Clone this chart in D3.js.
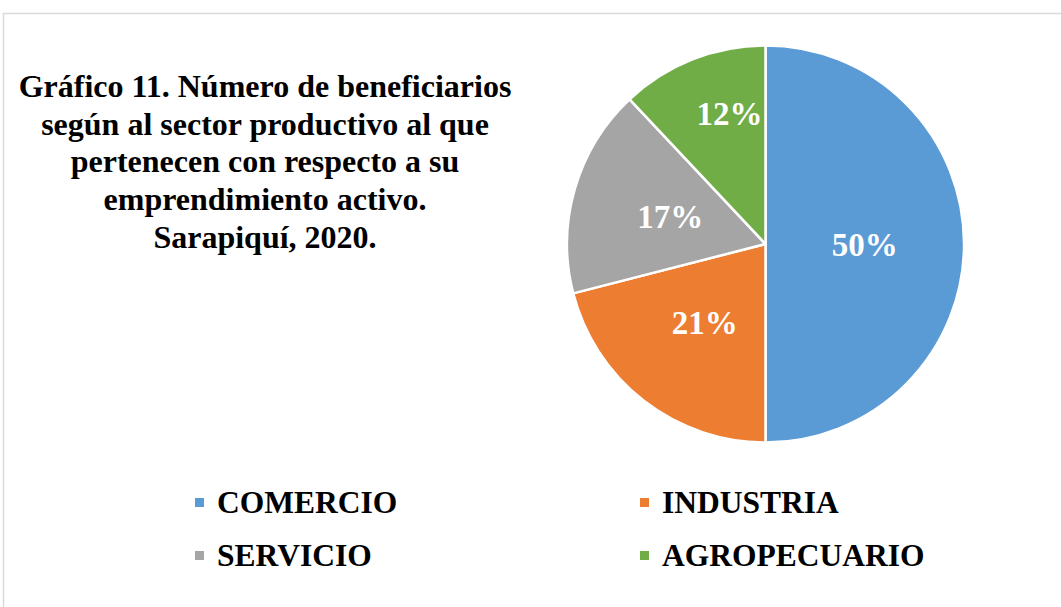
<!DOCTYPE html>
<html>
<head>
<meta charset="utf-8">
<script src="https://cdn.jsdelivr.net/npm/d3@7"></script>
<style>
  html, body { margin: 0; padding: 0; background: #fff; }
  svg { display: block; }
  text { font-family: "Liberation Serif", "Times New Roman", serif; font-weight: bold; }
</style>
</head>
<body>
<svg id="chart" width="1061" height="607"></svg>
<script>
const categories = ["COMERCIO", "INDUSTRIA", "SERVICIO", "AGROPECUARIO"];
const values = [50, 21, 17, 12];
const colors = ["#5b9bd5", "#ed7d31", "#a5a5a5", "#70ad47"];
const titleLines = [
  "Gráfico 11. Número de beneficiarios",
  "según al sector productivo al que",
  "pertenecen con respecto a su",
  "emprendimiento activo.",
  "Sarapiquí, 2020."
];

const svg = d3.select("#chart");

// chart border
svg.append("rect")
  .attr("x", 3.5).attr("y", 13.5)
  .attr("width", 1070).attr("height", 610)
  .attr("fill", "#fff").attr("stroke", "#d9d9d9").attr("stroke-width", 1.5);

// title
const title = svg.append("text")
  .attr("x", 265).attr("y", 97)
  .attr("text-anchor", "middle")
  .attr("font-size", 32)
  .attr("fill", "#000");
titleLines.forEach((l, i) => {
  title.append("tspan").attr("x", 265).attr("dy", i === 0 ? 0 : 37.7).text(l);
});

// pie
const cx = 765.5, cy = 244, R = 198.5;
const total = d3.sum(values);
const pie = d3.pie().sort(null).value(d => d.v);
const data = categories.map((c, i) => ({ c, v: values[i], col: colors[i] }));
const arcs = pie(data);
const arc = d3.arc().innerRadius(0).outerRadius(R);

const g = svg.append("g").attr("transform", `translate(${cx},${cy})`);
g.selectAll("path.slice").data(arcs).enter().append("path")
  .attr("class", "slice")
  .attr("d", arc)
  .attr("fill", d => d.data.col)
  .attr("stroke", "#fff").attr("stroke-width", 2.5).attr("stroke-linejoin", "round");

// labels (the smallest slice label sits further out, like the original)
const labelScale = [1, 1, 1, 1.42];
g.selectAll("text.lbl").data(arcs).enter().append("text")
  .attr("class", "lbl")
  .attr("transform", (d, i) => {
    const a = (d.startAngle + d.endAngle) / 2;
    let r = R * 0.5 * labelScale[i];
    let x = Math.sin(a) * r, y = -Math.cos(a) * r;
    if (i === 3) x += 16;
    return `translate(${x},${y})`;
  })
  .attr("text-anchor", "middle")
  .attr("dy", "0.35em")
  .attr("font-size", 33)
  .attr("fill", "#fff")
  .text(d => Math.round(d.data.v / total * 100) + "%");

// legend
const legX = [195, 640], legY = [502, 555];
const leg = svg.selectAll("g.leg").data(data).enter().append("g")
  .attr("class", "leg")
  .attr("transform", (d, i) => `translate(${legX[i % 2]},${legY[Math.floor(i / 2)]})`);
leg.append("rect").attr("x", 0).attr("y", -4).attr("width", 9).attr("height", 9)
  .attr("fill", d => d.col);
leg.append("text").attr("x", 22).attr("y", 0).attr("dy", "0.35em")
  .attr("font-size", 31.5).attr("fill", "#000")
  .text(d => d.c);
</script>
</body>
</html>
